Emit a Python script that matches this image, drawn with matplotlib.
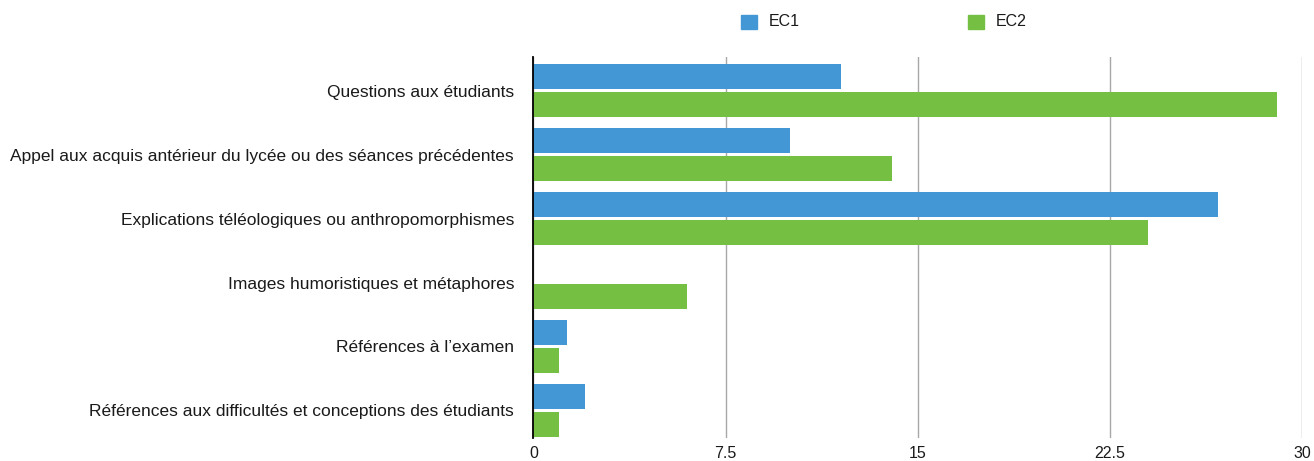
import matplotlib
matplotlib.use("Agg")
import matplotlib.pyplot as plt
import numpy as np

plt.rcParams['font.family'] = ['Liberation Sans', 'DejaVu Sans']

categories = [
    "Questions aux étudiants",
    "Appel aux acquis antérieur du lycée ou des séances précédentes",
    "Explications téléologiques ou anthropomorphismes",
    "Images humoristiques et métaphores",
    "Références à l’examen",
    "Références aux difficultés et conceptions des étudiants",
]
ec1 = [12, 10, 26.7, 0, 1.3, 2]
ec2 = [29, 14, 24, 6, 1, 1]
xticks = [0, 7.5, 15, 22.5, 30]
xticklabels = ["0", "7.5", "15", "22.5", "30"]

blue = "#4397d5"
green = "#75bf43"

fig = plt.figure(figsize=(13.14, 4.61), dpi=100)
ax = fig.add_axes([0.406, 0.05, 0.585, 0.826])

y = np.arange(len(categories))
h = 0.39
ax.barh(y - 0.219, ec1, height=h, color=blue, label="EC1", zorder=3)
ax.barh(y + 0.219, ec2, height=h, color=green, label="EC2", zorder=3)

ax.set_xlim(0, 30)
ax.set_ylim(5.43, -0.523)
ax.set_yticks(y)
ax.set_yticklabels(categories, fontsize=12.5, color="#1a1a1a")
ax.set_xticks(xticks)
ax.set_xticklabels(xticklabels, fontsize=11.5, color="#1a1a1a")
ax.tick_params(axis="both", length=0)
ax.tick_params(axis="y", pad=14)
ax.tick_params(axis="x", pad=5.5)

for s in ["top", "right", "bottom"]:
    ax.spines[s].set_visible(False)
ax.spines["left"].set_color("black")
ax.spines["left"].set_linewidth(1.3)
ax.spines["left"].set_zorder(4)

ax.grid(axis="x", color="#a8a8a8", linewidth=1, zorder=0)
ax.grid(axis="y", visible=False)

# legend on top, spread out
fig.patches.append(plt.Rectangle((741 / 1314, 1 - 29 / 461), 16 / 1314, 14 / 461,
                                 transform=fig.transFigure, color=blue))
fig.text(769 / 1314, 1 - 22 / 461, "EC1", fontsize=11.5, va="center", color="#1a1a1a")
fig.patches.append(plt.Rectangle((968 / 1314, 1 - 29 / 461), 16 / 1314, 14 / 461,
                                 transform=fig.transFigure, color=green))
fig.text(996 / 1314, 1 - 22 / 461, "EC2", fontsize=11.5, va="center", color="#1a1a1a")

fig.savefig("out.png", dpi=100)
